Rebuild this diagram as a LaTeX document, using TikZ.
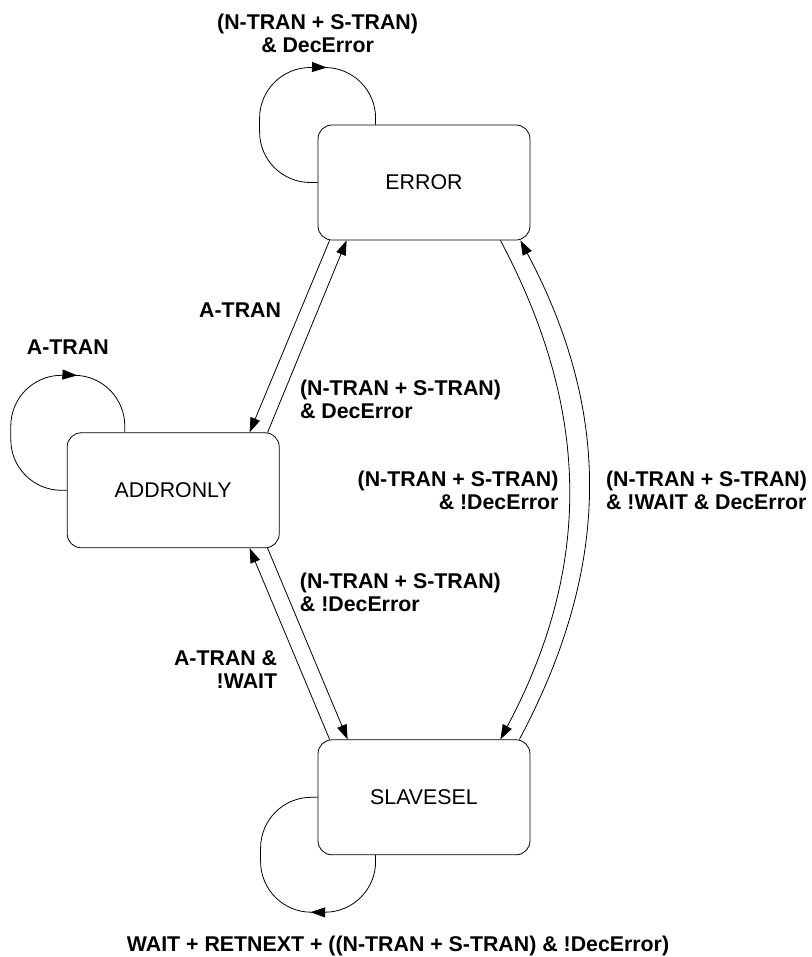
\documentclass[tikz,border=0pt]{standalone}
\usepackage{fontspec}
\setmainfont{Liberation Sans}
\usetikzlibrary{arrows.meta, positioning, decorations.markings}

\begin{document}
\begin{tikzpicture}[
        state/.style={rectangle, draw=black, line width=0.6pt, minimum width=159pt, minimum height=86.25pt, rounded corners=10.5pt, inner sep=0pt, align=center, font=\fontsize{16pt}{17.25pt}\selectfont},
        cond/.style={inner sep=0pt, font=\fontsize{16pt}{17.25pt}\selectfont\bfseries},
        line/.style={line width=0.6pt, draw=black, -{Triangle[length=11pt, width=7.5pt]}},
        loopline/.style={line width=0.6pt, draw=black, rounded corners=38pt, postaction={decorate}, decoration={markings, mark=at position #1 with {\arrow{Triangle[length=11pt, width=7.5pt]}}}}
    ]
    
    \useasboundingbox (-318pt,-580.875pt) rectangle (291pt,136.875pt);
    
    % States
    \node[state] (error) {ERROR};
    \node[state, below=374.25pt of error] (slavesel) {SLAVESEL};
    \node[state, below left=144pt and 28.5pt of error] (addronly) {ADDRONLY};
    
    % Transitions
    \draw[line] ([xshift=9pt]error.south west) -- node[cond, pos=0.365, left=14.25pt] {A-TRAN} ([xshift=-22.5pt]addronly.north east);
    \draw[line] ([xshift=-9pt]addronly.north east) -- node[cond, pos=0.17, right=14pt, align=left] {(N-TRAN + S-TRAN)\\\& DecError} ([xshift=21.75pt]error.south west);
    \draw[line] ([xshift=-9pt]addronly.south east) -- node[cond, pos=0.233, right=10pt, align=left] {(N-TRAN + S-TRAN)\\\& !DecError} ([xshift=22.5pt]slavesel.north west);
    \draw[line] ([xshift=9pt]slavesel.north west) -- node[cond, pos=0.367, left=17pt, align=right] {A-TRAN \&\\!WAIT} ([xshift=-22.5pt]addronly.south east);
    \draw[line] ([xshift=-22.5pt]error.south east) to[out=-62, in=62] node[cond, pos=0.5, left=7.5pt, align=right] {(N-TRAN + S-TRAN)\\\& !DecError} ([xshift=-22.5pt]slavesel.north east);
    \draw[line] ([xshift=-8.25pt]slavesel.north east) to[out=62, in=-62] node[cond, pos=0.5, right=12.75pt, align=left] {(N-TRAN + S-TRAN)\\\& !WAIT \& DecError} ([xshift=-7.5pt]error.south east);
    
    % Self loops
    \draw[loopline=0.70] (error.west) -| ++(-43.5pt,86.25pt) node[cond, above=10.5pt, xshift=43.5pt, align=center] {(N-TRAN + S-TRAN)\\\& DecError} -| ([xshift=43.5pt]error.north west);
    \draw[loopline=0.70] (addronly.west) -| ++(-42pt,86.25pt) node[cond, above=15pt, xshift=42.75pt] {A-TRAN} -| ([xshift=43.5pt]addronly.north west);
    \draw[loopline=0.36] ([xshift=43.5pt]slavesel.south west) |- ++(-86.25pt,-42.75pt) node[cond, below=17.5pt, xshift=103.1pt] {WAIT + RETNEXT + ((N-TRAN + S-TRAN) \& !DecError)} |- (slavesel.west);
    
\end{tikzpicture}
\end{document}
